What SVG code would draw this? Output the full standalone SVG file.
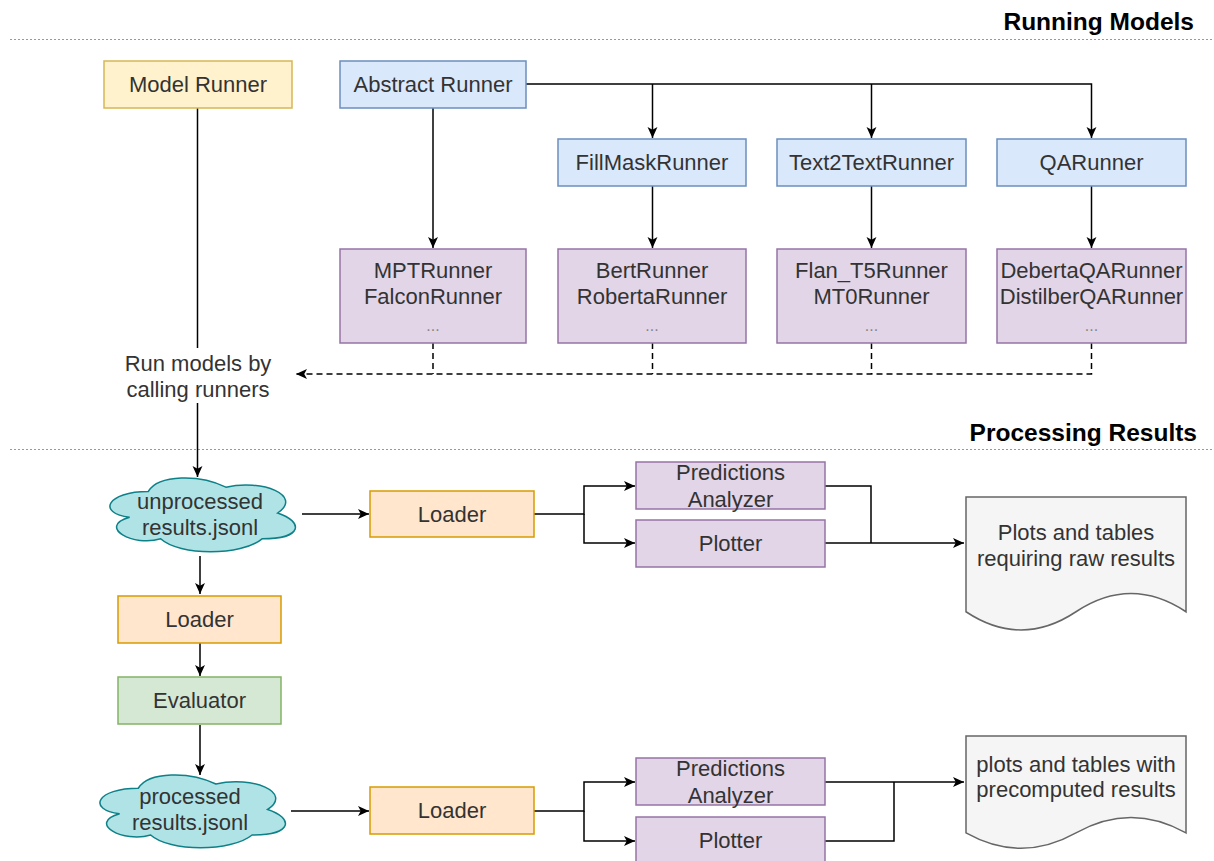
<svg xmlns="http://www.w3.org/2000/svg" width="1214" height="861" viewBox="0 0 1214 861">
<style>
text{font-family:"Liberation Sans",Arial,sans-serif;font-size:22px;fill:#333333;text-anchor:middle}
.h{font-weight:bold;font-size:24.5px;fill:#000;text-anchor:end}
.sep{stroke:#999;stroke-width:1;stroke-dasharray:2 2;fill:none}
.yel{fill:#fff2cc;stroke:#d6b656;stroke-width:1.5}
.blu{fill:#dae8fc;stroke:#6c8ebf;stroke-width:1.5}
.pur{fill:#e1d5e7;stroke:#9673a6;stroke-width:1.5}
.org{fill:#ffe6cc;stroke:#d79b00;stroke-width:1.5}
.grn{fill:#d5e8d4;stroke:#82b366;stroke-width:1.5}
.cld{fill:#b0e3e6;stroke:#0e8088;stroke-width:1.5}
.doc{fill:#f5f5f5;stroke:#666666;stroke-width:1.5}
.c{fill:none;stroke:#000;stroke-width:1.5}
.d{fill:none;stroke:#000;stroke-width:1.5;stroke-dasharray:6 4}
.dots{fill:#888;font-size:16px}
</style>
<defs>
<marker id="arr" viewBox="0 0 10 10" refX="10" refY="5" markerWidth="11" markerHeight="11" orient="auto" markerUnits="userSpaceOnUse">
<path d="M0,0.5 L10,5 L0,9.5 L2.5,5 z" fill="#000"/>
</marker>
</defs>
<rect width="1214" height="861" fill="#fff"/>

<g id="sections">
<line class="sep" x1="10" y1="39.5" x2="1214" y2="39.5"/>
<text class="h" x="1194" y="30">Running Models</text>
<line class="sep" x1="10" y1="449.5" x2="1214" y2="449.5"/>
<text class="h" x="1197" y="441">Processing Results</text>
</g>

<g id="connectors">
<path class="c" d="M197.5,108 V348"/>
<path class="c" d="M197.5,403 V477" marker-end="url(#arr)"/>
<path class="c" d="M433,108 V248" marker-end="url(#arr)"/>
<path class="c" d="M526,84 H1091.5 V138" marker-end="url(#arr)"/>
<path class="c" d="M652.5,84 V138" marker-end="url(#arr)"/>
<path class="c" d="M871.5,84 V138" marker-end="url(#arr)"/>
<path class="c" d="M652.5,186 V248" marker-end="url(#arr)"/>
<path class="c" d="M871.5,186 V248" marker-end="url(#arr)"/>
<path class="c" d="M1091.5,186 V248" marker-end="url(#arr)"/>
<path class="d" d="M433,343 V374"/>
<path class="d" d="M652.5,343 V374"/>
<path class="d" d="M871.5,343 V374"/>
<path class="d" d="M1091.5,343 V374 H296" marker-end="url(#arr)"/>
<path class="c" d="M302,514 H369" marker-end="url(#arr)"/>
<path class="c" d="M534,514 H584 V486 H635" marker-end="url(#arr)"/>
<path class="c" d="M584,514 V543 H635" marker-end="url(#arr)"/>
<path class="c" d="M825,486 H871 V543"/>
<path class="c" d="M825,543 H964" marker-end="url(#arr)"/>
<path class="c" d="M200,556 V594" marker-end="url(#arr)"/>
<path class="c" d="M200,643 V676" marker-end="url(#arr)"/>
<path class="c" d="M200,725 V775" marker-end="url(#arr)"/>
<path class="c" d="M291,811 H369" marker-end="url(#arr)"/>
<path class="c" d="M534,811 H584 V782 H635" marker-end="url(#arr)"/>
<path class="c" d="M584,811 V841 H635" marker-end="url(#arr)"/>
<path class="c" d="M825,782 H964" marker-end="url(#arr)"/>
<path class="c" d="M825,841 H894 V782"/>
</g>

<g id="model-runner"><rect class="yel" x="104" y="61" width="188" height="47"/><text x="198" y="92">Model Runner</text></g>
<g id="abstract-runner"><rect class="blu" x="340" y="61" width="186" height="47"/><text x="433" y="92">Abstract Runner</text></g>
<g id="fillmask-runner"><rect class="blu" x="558" y="139" width="188" height="47"/><text x="652" y="170">FillMaskRunner</text></g>
<g id="text2text-runner"><rect class="blu" x="777" y="139" width="189" height="47"/><text x="871.5" y="170">Text2TextRunner</text></g>
<g id="qa-runner"><rect class="blu" x="997" y="139" width="189" height="47"/><text x="1091.5" y="170">QARunner</text></g>

<g id="mpt-falcon"><rect class="pur" x="340" y="249" width="186" height="94"/><text x="433" y="277.5">MPTRunner</text><text x="433" y="304">FalconRunner</text><text class="dots" x="433" y="330.5">...</text></g>
<g id="bert-roberta"><rect class="pur" x="558" y="249" width="188" height="94"/><text x="652" y="277.5">BertRunner</text><text x="652" y="304">RobertaRunner</text><text class="dots" x="652" y="330.5">...</text></g>
<g id="flan-mt0"><rect class="pur" x="777" y="249" width="189" height="94"/><text x="871.5" y="277.5">Flan_T5Runner</text><text x="871.5" y="304">MT0Runner</text><text class="dots" x="871.5" y="330.5">...</text></g>
<g id="deberta-distilber"><rect class="pur" x="997" y="249" width="189" height="94"/><text x="1091.5" y="277.5">DebertaQARunner</text><text x="1091.5" y="304">DistilberQARunner</text><text class="dots" x="1091.5" y="330.5">...</text></g>

<g id="run-label"><text x="198" y="371">Run models by</text><text x="198" y="397">calling runners</text></g>

<g id="unprocessed-results"><path class="cld" transform="translate(96.5,470) scale(207,86)" vector-effect="non-scaling-stroke" d="M0.25,0.25 C0.05,0.25 0,0.5 0.16,0.55 C0,0.66 0.18,0.9 0.31,0.8 C0.4,1 0.7,1 0.8,0.8 C1,0.8 1,0.6 0.875,0.5 C1,0.3 0.8,0.1 0.625,0.2 C0.5,0.05 0.3,0.05 0.25,0.25 Z"/><text x="200" y="508.5">unprocessed</text><text x="200" y="534.5">results.jsonl</text></g>

<g id="loader-top"><rect class="org" x="370" y="491" width="164" height="46"/><text x="452" y="521.5">Loader</text></g>
<g id="pred-analyzer-top"><rect class="pur" x="636" y="462" width="189" height="47"/><text x="730.5" y="480">Predictions</text><text x="730.5" y="506.5">Analyzer</text></g>
<g id="plotter-top"><rect class="pur" x="636" y="520" width="189" height="47"/><text x="730.5" y="551">Plotter</text></g>
<g id="raw-results-doc"><path class="doc" d="M966,497 H1186 V611.75 Q1131,575.3 1076,611.75 Q1021,648.2 966,611.75 Z"/><text x="1076" y="540">Plots and tables</text><text x="1076" y="566">requiring raw results</text></g>

<g id="loader-left"><rect class="org" x="118" y="596" width="163" height="47"/><text x="199.5" y="627">Loader</text></g>
<g id="evaluator"><rect class="grn" x="118" y="677" width="163" height="47"/><text x="199.5" y="708">Evaluator</text></g>

<g id="processed-results"><path class="cld" transform="translate(86.5,767) scale(207,85)" vector-effect="non-scaling-stroke" d="M0.25,0.25 C0.05,0.25 0,0.5 0.16,0.55 C0,0.66 0.18,0.9 0.31,0.8 C0.4,1 0.7,1 0.8,0.8 C1,0.8 1,0.6 0.875,0.5 C1,0.3 0.8,0.1 0.625,0.2 C0.5,0.05 0.3,0.05 0.25,0.25 Z"/><text x="190" y="804">processed</text><text x="190" y="830">results.jsonl</text></g>

<g id="loader-bottom"><rect class="org" x="370" y="787" width="164" height="47"/><text x="452" y="818">Loader</text></g>
<g id="pred-analyzer-bottom"><rect class="pur" x="636" y="758" width="189" height="47"/><text x="730.5" y="776">Predictions</text><text x="730.5" y="802.5">Analyzer</text></g>
<g id="plotter-bottom"><rect class="pur" x="636" y="817" width="189" height="47"/><text x="730.5" y="848">Plotter</text></g>
<g id="precomputed-doc"><path class="doc" d="M966,736 H1186 V832.9 Q1131,802.1 1076,832.9 Q1021,863.7 966,832.9 Z"/><text x="1076" y="772">plots and tables with</text><text x="1076" y="797">precomputed results</text></g>
</svg>
